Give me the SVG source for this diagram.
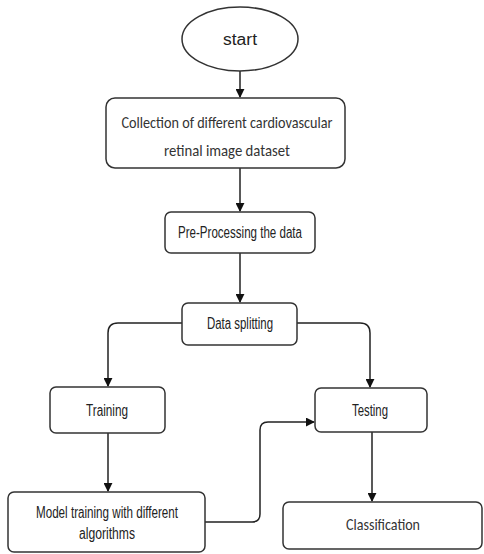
<svg xmlns="http://www.w3.org/2000/svg" width="484" height="554" viewBox="0 0 484 554">
<defs>
<marker id="ah" viewBox="0 0 10 10" refX="9" refY="5" markerWidth="9" markerHeight="9" markerUnits="userSpaceOnUse" orient="auto"><path d="M0,0 L10,5 L0,10 z" fill="#111"/></marker>
<style>
.box{fill:#fff;stroke:#333;stroke-width:1.5}
.t{font-family:"Liberation Sans",Arial,sans-serif;font-size:16px;fill:#222;text-anchor:middle}
.c{font-family:"Carlito","Liberation Sans",Arial,sans-serif;font-size:17px;fill:#333;text-anchor:middle}
.ln{fill:none;stroke:#222;stroke-width:1.5;marker-end:url(#ah)}
</style>
</defs>
<rect width="484" height="554" fill="#fff"/>
<g id="connectors">
<path class="ln" d="M240,71 V97"/>
<path class="ln" d="M240,168 V211"/>
<path class="ln" d="M240,253 V302"/>
<path class="ln" d="M182,323 H118 Q108,323 108,333 V386"/>
<path class="ln" d="M297,323 H360 Q370,323 370,333 V387"/>
<path class="ln" d="M108,433 V491"/>
<path class="ln" d="M372,432 V501"/>
<path class="ln" d="M205,522 H252 Q260,522 260,514 V430 Q260,422 268,422 H314"/>
</g>
<g id="start">
<ellipse class="box" cx="240" cy="39" rx="58" ry="32"/>
<text class="t" x="240" y="45" textLength="34" lengthAdjust="spacingAndGlyphs">start</text>
</g>
<g id="collection">
<rect class="box" x="106" y="98" width="239" height="70" rx="9"/>
<text class="c" x="227" y="128" textLength="211" lengthAdjust="spacingAndGlyphs">Collection of different cardiovascular</text>
<text class="c" x="227" y="156" textLength="126" lengthAdjust="spacingAndGlyphs">retinal image dataset</text>
</g>
<g id="preprocessing">
<rect class="box" x="165" y="212" width="150" height="41" rx="6"/>
<text class="t" x="240" y="238" textLength="124" lengthAdjust="spacingAndGlyphs">Pre-Processing the data</text>
</g>
<g id="splitting">
<rect class="box" x="182" y="303" width="115" height="42" rx="6"/>
<text class="t" x="240" y="329" textLength="66" lengthAdjust="spacingAndGlyphs">Data splitting</text>
</g>
<g id="training">
<rect class="box" x="50" y="387" width="115" height="46" rx="6"/>
<text class="t" x="107" y="416" textLength="42" lengthAdjust="spacingAndGlyphs">Training</text>
</g>
<g id="testing">
<rect class="box" x="315" y="388" width="112" height="44" rx="6"/>
<text class="t" x="370" y="416" textLength="36" lengthAdjust="spacingAndGlyphs">Testing</text>
</g>
<g id="model">
<rect class="box" x="8" y="492" width="197" height="60" rx="6"/>
<text class="t" x="107" y="518" textLength="142" lengthAdjust="spacingAndGlyphs">Model training with different</text>
<text class="t" x="107" y="539" textLength="56" lengthAdjust="spacingAndGlyphs">algorithms</text>
</g>
<g id="classification">
<rect class="box" x="283" y="502" width="199" height="47" rx="6"/>
<text class="c" x="383" y="530" textLength="74" lengthAdjust="spacingAndGlyphs">Classification</text>
</g>
</svg>
